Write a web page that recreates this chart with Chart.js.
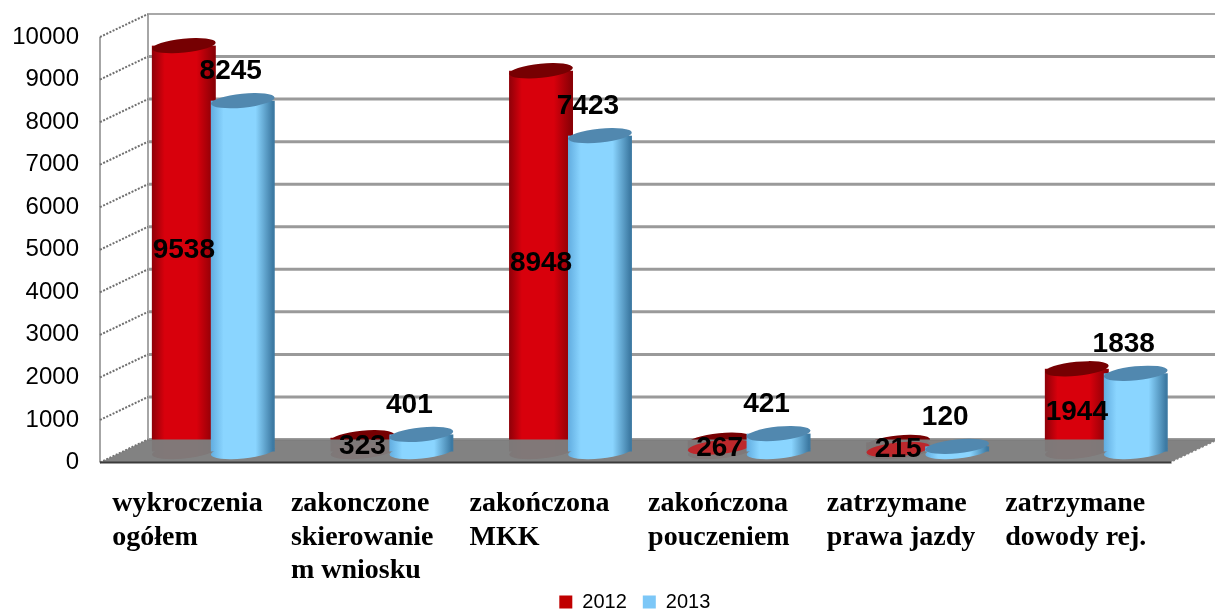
<!DOCTYPE html>
<html>
<head>
<meta charset="utf-8">
<style>
  html, body { margin: 0; padding: 0; background: #fff; }
  #wrap { width: 1215px; height: 612px; overflow: hidden; }
</style>
<script src="https://cdn.jsdelivr.net/npm/chart.js@4"></script>
</head>
<body>
<div id="wrap"><canvas id="chart" width="1215" height="612"></canvas></div>
<script>
var categories = [
  ['wykroczenia', 'ogółem'],
  ['zakonczone', 'skierowanie', 'm wniosku'],
  ['zakończona', 'MKK'],
  ['zakończona', 'pouczeniem'],
  ['zatrzymane', 'prawa jazdy'],
  ['zatrzymane', 'dowody rej.']
];
var values2012 = [9538, 323, 8948, 267, 215, 1944];
var values2013 = [8245, 401, 7423, 421, 120, 1838];

/* fake 3D: the plot is the front plane, walls and bars are pushed back from it */
var DEPTH_X = 48, DEPTH_Y = -23;
var BAR_DX = 24, BAR_DY = -11;

var red = { left: '#8e0008', mid: '#d8000c', right: '#8a0006', cap: '#760002', flat: '#c00000' };
var blue = { left: '#62ade0', mid: '#8ad5ff', right: '#3d7aa3', cap: '#5188af', flat: '#7cc7f7' };

function bodyFill(ctx, el, c) {
  var w = el.width;
  var g = ctx.createLinearGradient(el.x - w / 2, 0, el.x + w / 2, 0);
  g.addColorStop(0, c.left);
  g.addColorStop(0.2, c.mid);
  g.addColorStop(0.7, c.mid);
  g.addColorStop(0.97, c.right);
  g.addColorStop(1, c.right);
  return g;
}

function ellipse(ctx, x, y, w) {
  ctx.beginPath();
  ctx.ellipse(x, y, w / 2, 7, -0.1, 0, Math.PI * 2);
  ctx.fill();
}

function drawBody(ctx, el, c) {
  ctx.fillStyle = bodyFill(ctx, el, c);
  ctx.fillRect(el.x - el.width / 2, el.y, el.width, el.base - el.y);
  ellipse(ctx, el.x, el.base, el.width);
}

var fakeThreeD = {
  id: 'fakeThreeD',
  afterLayout: function (chart) {
    // legend sits off centre, low on the canvas
    var legend = chart.legend;
    legend.left += 49;
    legend.right += 49;
    legend.top = 601 - 16 - 9;
    // tick labels are clipped to the scale box, the third line needs room
    chart.scales.x.bottom = chart.height;
  },
  beforeDatasetDraw: function () { return false; },
  beforeDatasetsDraw: function (chart) {
    var ctx = chart.ctx, area = chart.chartArea, y = chart.scales.y;
    var ticks = y.ticks.map(function (t) { return y.getPixelForValue(t.value); });
    var right = chart.width + 10;

    ctx.save();
    // back wall grid
    ticks.forEach(function (py, i) {
      ctx.strokeStyle = i === ticks.length - 1 ? '#a8a8a8' : '#9a9a9a';
      ctx.lineWidth = i === ticks.length - 1 ? 2 : 3;
      ctx.beginPath();
      ctx.moveTo(area.left + DEPTH_X, py + DEPTH_Y);
      ctx.lineTo(right, py + DEPTH_Y);
      ctx.stroke();
    });
    // side wall
    ctx.strokeStyle = '#a6a6a6';
    ctx.lineWidth = 2;
    ctx.beginPath();
    ctx.moveTo(area.left, area.top);
    ctx.lineTo(area.left, area.bottom);
    ctx.moveTo(area.left + DEPTH_X, area.top + DEPTH_Y);
    ctx.lineTo(area.left + DEPTH_X, area.bottom + DEPTH_Y);
    ctx.stroke();
    ctx.strokeStyle = '#6f6f6f';
    ctx.lineWidth = 2;
    ctx.setLineDash([2, 1.5]);
    ticks.forEach(function (py) {
      ctx.beginPath();
      ctx.moveTo(area.left, py);
      ctx.lineTo(area.left + DEPTH_X, py + DEPTH_Y);
      ctx.stroke();
    });
    ctx.setLineDash([]);

    var redBars = chart.getDatasetMeta(0).data;
    var blueBars = chart.getDatasetMeta(1).data;

    ctx.translate(BAR_DX, BAR_DY);
    redBars.forEach(function (el) {
      drawBody(ctx, el, red);
      ctx.fillStyle = red.cap;
      ellipse(ctx, el.x, el.y, el.width);
    });
    ctx.translate(-BAR_DX, -BAR_DY);

    // floor sits over the red row, the foot of those bars only shows through
    ctx.fillStyle = 'rgba(125,125,125,0.96)';
    ctx.beginPath();
    ctx.moveTo(area.left, area.bottom);
    ctx.lineTo(area.right, area.bottom);
    ctx.lineTo(area.right + DEPTH_X, area.bottom + DEPTH_Y);
    ctx.lineTo(area.left + DEPTH_X, area.bottom + DEPTH_Y);
    ctx.closePath();
    ctx.fill();
    ctx.strokeStyle = '#3a3a3a';
    ctx.lineWidth = 2;
    ctx.beginPath();
    ctx.moveTo(area.left, area.bottom);
    ctx.lineTo(area.right, area.bottom);
    ctx.stroke();
    ctx.strokeStyle = '#ffffff';
    ctx.lineWidth = 1.5;
    ctx.setLineDash([2, 2]);
    ctx.beginPath();
    ctx.moveTo(area.right, area.bottom);
    ctx.lineTo(area.right + DEPTH_X, area.bottom + DEPTH_Y);
    ctx.stroke();
    ctx.setLineDash([]);

    ctx.translate(BAR_DX, BAR_DY);
    // short red bars stand out of the floor
    redBars.forEach(function (el) {
      if (el.y + BAR_DY > area.bottom + DEPTH_Y) {
        ctx.fillStyle = 'rgba(205,20,25,0.8)';
        ellipse(ctx, el.x, el.y + 7, el.width);
      }
    });
    blueBars.forEach(function (el) {
      drawBody(ctx, el, blue);
      ctx.fillStyle = blue.cap;
      ellipse(ctx, el.x, el.y, el.width);
    });
    ctx.restore();
  },
  afterDatasetsDraw: function (chart) {
    var ctx = chart.ctx;
    ctx.save();
    ctx.fillStyle = '#000';
    ctx.font = 'bold 28px "Liberation Sans", Arial, sans-serif';
    ctx.textAlign = 'center';
    ctx.textBaseline = 'middle';
    chart.getDatasetMeta(0).data.forEach(function (el, i) {
      ctx.fillText(values2012[i], el.x + BAR_DX, (el.y + el.base) / 2 + BAR_DY + 2);
    });
    chart.getDatasetMeta(1).data.forEach(function (el, i) {
      ctx.fillText(values2013[i], el.x + BAR_DX - 12, el.y + BAR_DY - 29);
    });
    ctx.restore();
  }
};

new Chart(document.getElementById('chart').getContext('2d'), {
  type: 'bar',
  data: {
    labels: categories,
    datasets: [
      { label: '2012', data: values2012, backgroundColor: red.flat },
      { label: '2013', data: values2013, backgroundColor: blue.flat }
    ]
  },
  options: {
    responsive: false,
    animation: false,
    layout: { padding: { top: 37, right: 43.4, bottom: 0, left: 0 } },
    categoryPercentage: 0.66,
    barPercentage: 1.085,
    scales: {
      x: {
        grid: { display: false },
        border: { display: false },
        afterFit: function (s) {
          s.paddingLeft = 0;
          s.paddingRight = 0;
          s.height = 612 - 462.5 - s.chart.legend.height;
        },
        ticks: {
          align: 'start',
          labelOffset: -77,
          padding: 16,
          maxRotation: 0,
          autoSkip: false,
          color: '#000',
          font: { family: '"Liberation Serif", "Times New Roman", serif', weight: 'bold', size: 28, lineHeight: 1.21 }
        }
      },
      y: {
        min: 0,
        max: 10000,
        grid: { display: false },
        border: { display: false },
        afterFit: function (s) { s.width = 100; },
        ticks: {
          stepSize: 1000,
          padding: 13,
          color: '#000',
          font: { family: '"Liberation Sans", Arial, sans-serif', size: 24 },
          callback: function (v) { return String(v); }
        }
      }
    },
    plugins: {
      tooltip: { enabled: false },
      legend: {
        position: 'bottom',
        labels: {
          boxWidth: 13,
          boxHeight: 13,
          padding: 16,
          color: '#000',
          font: { family: '"Liberation Sans", Arial, sans-serif', size: 20 }
        }
      }
    }
  },
  plugins: [fakeThreeD]
});
</script>
</body>
</html>
